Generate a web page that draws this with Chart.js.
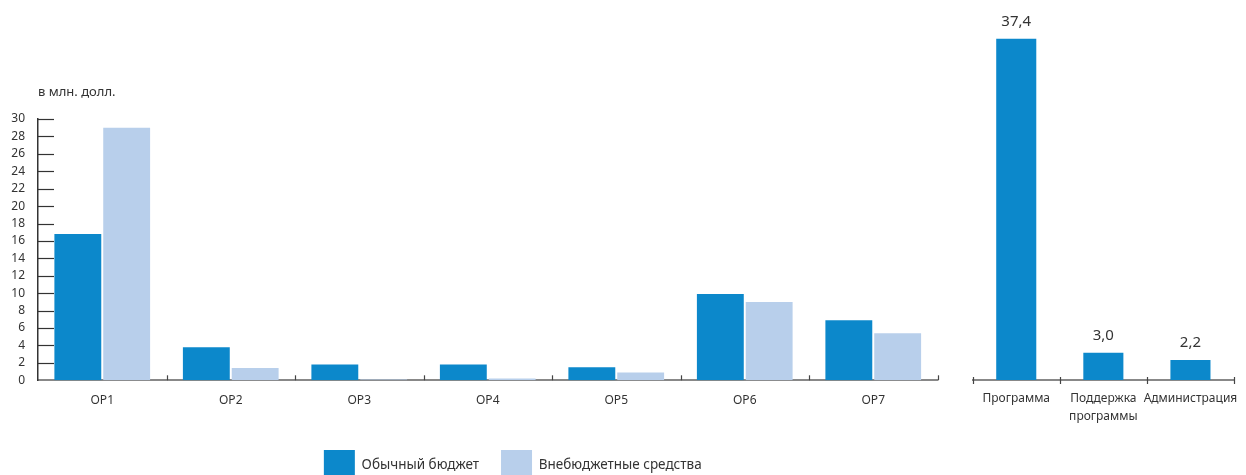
<!DOCTYPE html>
<html>
<head>
<meta charset="utf-8">
<script src="https://cdn.jsdelivr.net/npm/chart.js@4"></script>
<style>
  html, body { margin: 0; padding: 0; background: #fff; overflow: hidden; width: 1246px; height: 475px; }
  #wrapL { position: absolute; left: 0; top: 0; width: 1030px; height: 491px; }
  #wrapR { position: absolute; left: 960px; top: 0; width: 286px; height: 491px; }
</style>
</head>
<body>
<div id="wrapL"><canvas id="left"></canvas></div>
<div id="wrapR"><canvas id="right"></canvas></div>
<script>
// ---- data ----
const categories = ['OP1', 'OP2', 'OP3', 'OP4', 'OP5', 'OP6', 'OP7'];
const regularBudget = [16.8, 3.8, 1.8, 1.8, 1.5, 9.9, 6.9];
const extraBudget = [29.0, 1.4, 0.1, 0.2, 0.9, 9.0, 5.4];
const seriesNames = ['Обычный бюджет', 'Внебюджетные средства'];
const unitLabel = 'в млн. долл.';
const summaryCategories = ['Программа', ['Поддержка', 'программы'], 'Администрация'];
const summaryValues = [37.4, 3.0, 2.2];

const DARK = '#0c88cb';
const LIGHT = '#b8cfeb';
const TEXT = '#333333';
const FONT = "'Noto Sans', 'DejaVu Sans', sans-serif";

Chart.defaults.font.family = FONT;
Chart.defaults.color = TEXT;
Chart.defaults.animation = false;

// inner tick marks + unit label for left chart
const leftDecor = {
  id: 'leftDecor',
  afterLayout(chart) {
    // centre the legend under the whole figure rather than the plot area
    const shift = 44;
    chart.legend.left += shift;
    chart.legend.right += shift;
  },
  afterDraw(chart) {
    const ctx = chart.ctx;
    const ca = chart.chartArea;
    const y = chart.scales.y;
    const x = chart.scales.x;
    ctx.save();
    ctx.strokeStyle = '#333';
    ctx.lineWidth = 1.2;
    y.ticks.forEach(t => {
      if (t.value === 0) return;
      const py = Math.round(y.getPixelForValue(t.value)) + 0.5;
      ctx.beginPath();
      ctx.moveTo(ca.left, py);
      ctx.lineTo(ca.left + 16, py);
      ctx.stroke();
    });
    const n = categories.length;
    const step = (x.right - x.left) / n;
    ctx.strokeStyle = '#444';
    for (let i = 1; i <= n; i++) {
      const px = Math.round(x.left + i * step) + 0.5;
      ctx.beginPath();
      ctx.moveTo(px, ca.bottom);
      ctx.lineTo(px, ca.bottom - 5);
      ctx.stroke();
    }
    ctx.fillStyle = TEXT;
    ctx.font = '13px ' + FONT;
    ctx.textAlign = 'left';
    ctx.textBaseline = 'middle';
    ctx.fillText(unitLabel, ca.left, 92);
    ctx.restore();
  }
};

const rightDecor = {
  id: 'rightDecor',
  afterDraw(chart) {
    const ctx = chart.ctx;
    const ca = chart.chartArea;
    const x = chart.scales.x;
    ctx.save();
    ctx.strokeStyle = '#444';
    ctx.lineWidth = 1.2;
    const n = summaryCategories.length;
    const step = (x.right - x.left) / n;
    for (let i = 0; i <= n; i++) {
      const px = Math.round(x.left + i * step) + 0.5;
      ctx.beginPath();
      ctx.moveTo(px, ca.bottom - 3);
      ctx.lineTo(px, ca.bottom + 4);
      ctx.stroke();
    }
    const meta = chart.getDatasetMeta(0);
    ctx.fillStyle = TEXT;
    ctx.font = '15px ' + FONT;
    ctx.textAlign = 'center';
    ctx.textBaseline = 'middle';
    meta.data.forEach((bar, i) => {
      ctx.fillText(summaryValues[i].toFixed(1).replace('.', ','), bar.x, bar.y - 17);
    });
    ctx.restore();
  }
};

new Chart(document.getElementById('left'), {
  type: 'bar',
  data: {
    labels: categories,
    datasets: [
      { label: seriesNames[0], data: regularBudget, backgroundColor: DARK, categoryPercentage: 0.76, barPercentage: 0.96 },
      { label: seriesNames[1], data: extraBudget, backgroundColor: LIGHT, categoryPercentage: 0.76, barPercentage: 0.96 }
    ]
  },
  options: {
    responsive: true,
    maintainAspectRatio: false,
    layout: { padding: { top: 119, right: 92.5, left: 0, bottom: 0 } },
    plugins: {
      legend: {
        display: true,
        position: 'bottom',
        labels: { boxWidth: 31, boxHeight: 31, padding: 22, color: TEXT, font: { size: 13.5 } }
      },
      tooltip: { enabled: false }
    },
    scales: {
      x: {
        grid: { display: false },
        border: { display: true, color: '#888', width: 2 },
        ticks: { padding: 5, font: { size: 12 }, color: TEXT, maxRotation: 0 },
        afterFit(s) { s.height = 47.7; }
      },
      y: {
        min: 0, max: 30,
        grid: { display: false },
        border: { display: true, color: '#333', width: 1.5 },
        ticks: { stepSize: 2, autoSkip: false, padding: 5, font: { size: 12 }, color: TEXT },
        afterFit(s) { s.width = 38; }
      }
    }
  },
  plugins: [leftDecor]
});

new Chart(document.getElementById('right'), {
  type: 'bar',
  data: {
    labels: summaryCategories,
    datasets: [
      { label: seriesNames[0], data: summaryValues, backgroundColor: DARK, categoryPercentage: 0.46, barPercentage: 1 }
    ]
  },
  options: {
    responsive: true,
    maintainAspectRatio: false,
    layout: { padding: { top: 15, right: 12, left: 12.7, bottom: 0 } },
    plugins: { legend: { display: false }, tooltip: { enabled: false } },
    scales: {
      x: {
        grid: { display: false },
        border: { display: true, color: '#888', width: 2 },
        ticks: { padding: 2, font: { size: 12, lineHeight: 1.5 }, color: TEXT, maxRotation: 0, minRotation: 0, autoSkip: false },
        afterFit(s) { s.height = 111; }
      },
      y: { display: false, min: 0, max: 40 }
    }
  },
  plugins: [rightDecor]
});
</script>
</body>
</html>
